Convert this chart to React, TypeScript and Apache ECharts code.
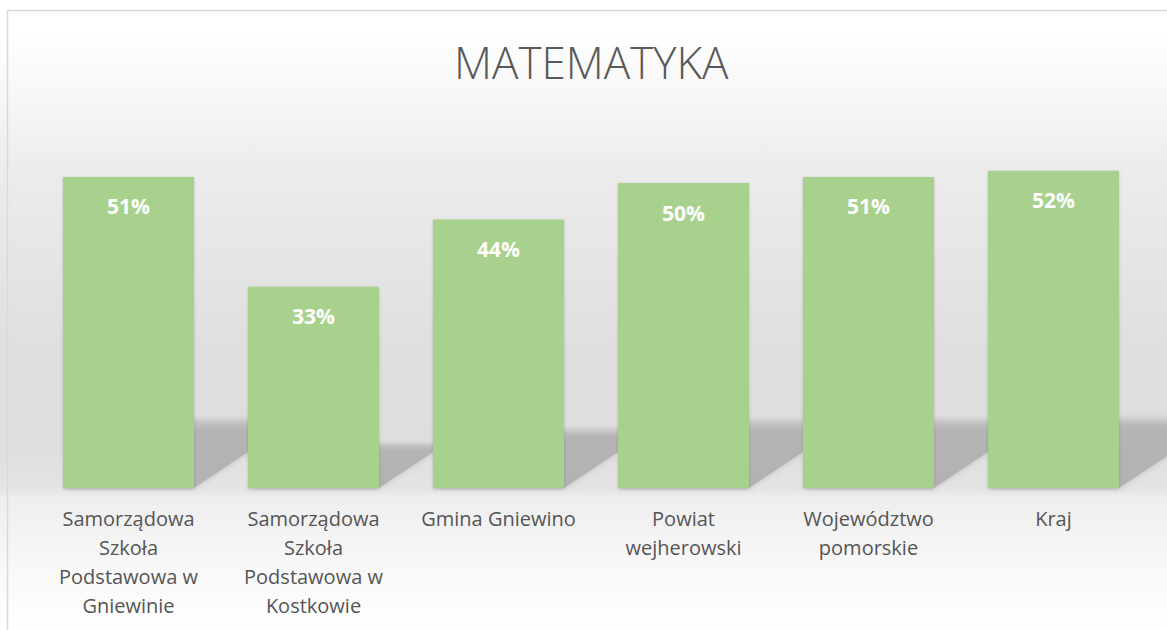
import React, { useEffect, useRef } from "react";
import * as echarts from "echarts";

const categories = [
  "Samorządowa\nSzkoła\nPodstawowa w\nGniewinie",
  "Samorządowa\nSzkoła\nPodstawowa w\nKostkowie",
  "Gmina Gniewino",
  "Powiat\nwejherowski",
  "Województwo\npomorskie",
  "Kraj",
];
const values = [51, 33, 44, 50, 51, 52];
const titleText = "MATEMATYKA";

export default function App() {
  const ref = useRef<HTMLDivElement>(null);
  useEffect(() => {
    const chart = echarts.init(ref.current!, null, { renderer: "svg" });
    const font = "'Open Sans', 'DejaVu Sans', sans-serif";
    chart.setOption({
      animation: false,
      title: {
        text: titleText,
        left: 449,
        top: 35,
        textStyle: { fontFamily: font, fontWeight: 300, fontSize: 44, color: "#595959" },
      },
      graphic: [
        {
          type: "rect",
          z: -100,
          silent: true,
          shape: { x: 0, y: 0, width: 1167, height: 630 },
          style: {
            fill: new echarts.graphic.LinearGradient(0, 0, 0, 1, [
              { offset: 0, color: "#ffffff" },
              { offset: 0.05, color: "#ffffff" },
              { offset: 0.16, color: "#f6f6f6" },
              { offset: 0.27, color: "#ececec" },
              { offset: 0.55, color: "#dfdfdf" },
              { offset: 0.7, color: "#dedede" },
              { offset: 0.775, color: "#e4e4e4" },
              { offset: 0.79, color: "#eeeeee" },
              { offset: 0.9, color: "#f8f8f8" },
              { offset: 1, color: "#ffffff" },
            ]),
          },
        },
        {
          type: "rect",
          z: -90,
          silent: true,
          shape: { x: 7.5, y: 10.5, width: 1300, height: 800 },
          style: { fill: "none", stroke: "#d9d9d9", lineWidth: 1.5 },
        },
      ],
      grid: { left: 36, right: 21, top: 122, bottom: 142, containLabel: false },
      xAxis: {
        type: "category",
        data: categories,
        axisLine: { show: false },
        axisTick: { show: false },
        axisLabel: {
          interval: 0,
          margin: 16,
          fontFamily: font,
          fontSize: 20,
          lineHeight: 29,
          color: "#555555",
          verticalAlign: "top",
        },
      },
      yAxis: {
        type: "value",
        min: 0,
        max: 60,
        show: false,
        splitLine: { show: false },
      },
      series: [
        {
          type: "custom",
          z: 1,
          silent: true,
          data: values.map((v, i) => [i, v]),
          renderItem: (params: any, api: any) => {
            const idx = api.value(0);
            const val = api.value(1);
            const base = api.coord([idx, 0]);
            const top = api.coord([idx, val]);
            const h = base[1] - top[1];
            const bw = 131;
            const x0 = base[0] - bw / 2;
            const x1 = base[0] + bw / 2;
            const y0 = base[1];
            const yt = y0 - 0.23 * h;
            const dx = 0.345 * h;
            return {
              type: "polygon",
              shape: {
                points: [
                  [x0, y0],
                  [x1, y0],
                  [x1 + dx, yt],
                  [x0 + dx, yt],
                ],
              },
              style: {
                fill: new echarts.graphic.LinearGradient(0, 0, 0, 1, [
                  { offset: 0, color: "rgba(178,178,178,0)" },
                  { offset: 0.2, color: "#b4b4b4" },
                  { offset: 1, color: "#b2b2b2" },
                ]),
                shadowBlur: 6,
                shadowColor: "rgba(170,170,170,0.6)",
              },
            };
          },
        },
        {
          type: "bar",
          z: 2,
          data: values,
          barWidth: 131,
          itemStyle: {
            color: "#A9D18E",
            shadowColor: "rgba(0,0,0,0.18)",
            shadowBlur: 3,
            shadowOffsetY: 1,
          },
          label: {
            show: true,
            position: "insideTop",
            distance: 19,
            formatter: "{c}%",
            fontFamily: font,
            fontWeight: "bold",
            fontSize: 21,
            color: "#ffffff",
          },
        },
      ],
    });
    return () => chart.dispose();
  }, []);
  return (
    <div
      ref={ref}
      style={{ position: "absolute", left: 0, top: 0, width: 1167, height: 630 }}
    />
  );
}
